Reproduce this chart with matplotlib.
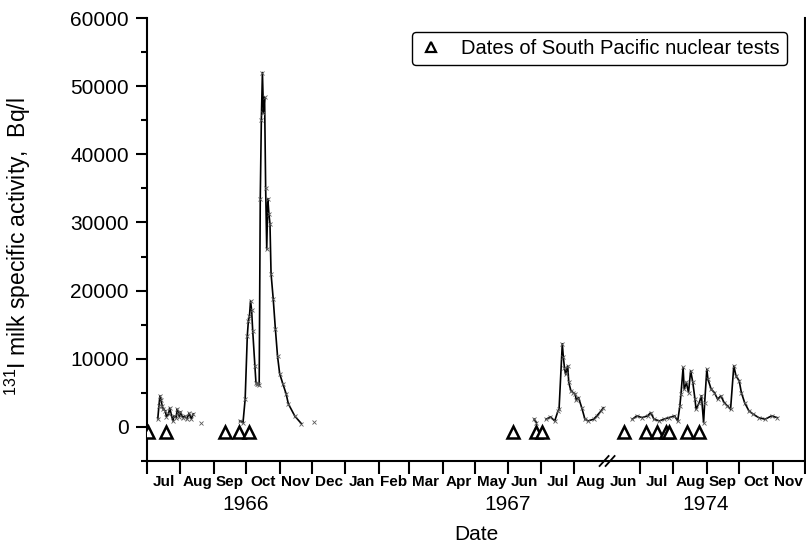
import matplotlib
matplotlib.use("Agg")
import matplotlib.pyplot as plt
import numpy as np
import pandas as pd
from matplotlib.lines import Line2D
from matplotlib.ticker import FixedLocator, MultipleLocator, NullFormatter

plt.rcParams["font.family"] = ["Liberation Sans", "DejaVu Sans"]
plt.rcParams["mathtext.fontset"] = "custom"
plt.rcParams["mathtext.rm"] = "Liberation Sans"
plt.rcParams["mathtext.it"] = "Liberation Sans:italic"

# ---- 131I activity in milk (Bq/l) ----
dates_1966 = [
    "1966-07-11", "1966-07-12", "1966-07-13", "1966-07-14", "1966-07-15", "1966-07-16",
    "1966-07-18", "1966-07-19", "1966-07-21", "1966-07-22", "1966-07-25", "1966-07-26",
    "1966-07-28", "1966-07-29", "1966-07-30", "1966-07-31", "1966-08-01", "1966-08-03",
    "1966-08-05", "1966-08-07", "1966-08-09", "1966-08-11", "1966-08-13", "1966-08-20",
    "1966-09-25", "1966-09-28", "1966-09-30", "1966-10-02", "1966-10-03", "1966-10-04",
    "1966-10-05", "1966-10-06", "1966-10-07", "1966-10-09", "1966-10-10", "1966-10-11",
    "1966-10-12", "1966-10-13", "1966-10-14", "1966-10-15", "1966-10-16", "1966-10-17",
    "1966-10-18", "1966-10-19", "1966-10-20", "1966-10-21", "1966-10-22", "1966-10-23",
    "1966-10-24", "1966-10-26", "1966-10-28", "1966-10-30", "1966-11-01", "1966-11-04",
    "1966-11-07", "1966-11-09", "1966-11-15", "1966-11-21", "1966-12-03",
]
activity_1966 = [
    1200, 3000, 4560, 4000, 3100, 2600,
    2350, 1500, 1900, 2800, 880, 1600,
    1370, 2600, 2100, 1500, 2200, 1370,
    1600, 1180, 2000, 1200, 1900, 630,
    880, 630, 4100, 13400, 15600, 16300,
    18500, 17100, 14100, 9000, 6500, 6300,
    6300, 6200, 33500, 45000, 52000, 46000,
    48400, 35000, 26100, 33500, 31300, 29800,
    22500, 18800, 14400, 10400, 7800, 6300,
    4850, 3400, 1600, 500, 780,
]

dates_1967 = [
    "1967-06-25", "1967-06-27", "1967-07-06", "1967-07-10", "1967-07-14", "1967-07-17",
    "1967-07-18", "1967-07-21", "1967-07-22", "1967-07-23", "1967-07-24", "1967-07-26",
    "1967-07-27", "1967-07-29", "1967-07-31", "1967-08-02", "1967-08-03", "1967-08-05",
    "1967-08-08", "1967-08-11", "1967-08-14", "1967-08-19", "1967-08-22", "1967-08-26",
    "1967-08-28",
]
activity_1967 = [
    1130, 630, 1130, 1470, 880, 2350,
    2600, 12200, 10200, 8700, 7750, 8970,
    6520, 5300, 5040, 4800, 3900, 4310,
    2840, 1130, 880, 1130, 1620, 2350,
    2800,
]

dates_1974 = [
    "1974-06-24", "1974-06-28", "1974-07-03", "1974-07-08", "1974-07-11", "1974-07-14",
    "1974-07-19", "1974-07-23", "1974-07-28", "1974-08-02", "1974-08-05", "1974-08-07",
    "1974-08-08", "1974-08-10", "1974-08-11", "1974-08-13", "1974-08-15", "1974-08-17",
    "1974-08-19", "1974-08-21", "1974-08-22", "1974-08-25", "1974-08-27", "1974-08-29",
    "1974-08-30", "1974-09-01", "1974-09-02", "1974-09-05", "1974-09-08", "1974-09-11",
    "1974-09-14", "1974-09-17", "1974-09-20", "1974-09-23", "1974-09-26", "1974-09-28",
    "1974-10-01", "1974-10-03", "1974-10-06", "1974-10-10", "1974-10-14", "1974-10-19",
    "1974-10-25", "1974-10-31", "1974-11-05",
]
activity_1974 = [
    1130, 1620, 1370, 1620, 2100, 1130,
    880, 1130, 1370, 1620, 880, 3090,
    4800, 8720, 5540, 6520, 5040, 8240,
    6520, 4070, 2600, 3580, 4560, 630,
    3580, 8480, 7010, 5540, 5040, 4070,
    4560, 3580, 3090, 2600, 8970, 7500,
    6760, 5040, 3580, 2350, 1870, 1370,
    1130, 1620, 1370,
]

# ---- South Pacific nuclear test dates ----
tests_1966 = ["1966-07-02", "1966-07-19", "1966-09-11", "1966-09-24", "1966-10-04"]
tests_1967 = ["1967-06-05", "1967-06-27", "1967-07-02"]
tests_1974 = ["1974-06-16", "1974-07-07", "1974-07-17", "1974-07-25", "1974-07-28",
              "1974-08-14", "1974-08-25"]
TEST_LEVEL = -800

# ---- axis text ----
month_labels = ["Jul", "Aug", "Sep", "Oct", "Nov", "Dec", "Jan", "Feb", "Mar", "Apr",
                "May", "Jun", "Jul", "Aug", "Jun", "Jul", "Aug", "Sep", "Oct", "Nov"]
year_labels = ["1966", "1967", "1974"]
year_label_dates = ["1966-09-30", "1967-05-31", "1974-08-31"]
y_ticks = [0, 10000, 20000, 30000, 40000, 50000, 60000]

# Broken time axis: Jul 1966 - Aug 1967, then Jun 1974 - Nov 1974
START_A, END_A = pd.Timestamp("1966-07-01"), pd.Timestamp("1967-09-01")
START_B, END_B = pd.Timestamp("1974-06-01"), pd.Timestamp("1974-12-01")
SPAN_A = (END_A - START_A).days
SPAN_TOTAL = SPAN_A + (END_B - START_B).days


def axis_x(dates):
    out = []
    for d in pd.to_datetime(pd.Series(dates)):
        if d < END_A:
            out.append((d - START_A).days)
        else:
            out.append(SPAN_A + (d - START_B).days)
    return np.array(out, dtype=float)


def runs(dates, values, max_gap=6):
    x = axis_x(dates)
    v = np.asarray(values, dtype=float)
    cuts = np.where(np.diff(x) > max_gap)[0] + 1
    return zip(np.split(x, cuts), np.split(v, cuts))


W, H = 806, 544
fig = plt.figure(figsize=(W / 100, H / 100), dpi=100)
L, R, T, B = 147, 805, 18, 461
ax = fig.add_axes([L / W, 1 - B / H, (R - L) / W, (B - T) / H])

for dates, vals in [(dates_1966, activity_1966), (dates_1967, activity_1967),
                    (dates_1974, activity_1974)]:
    for xs, vs in runs(dates, vals):
        ax.plot(xs, vs, color="black", lw=1.2, marker="x", ms=3.2, mew=0.6,
                mec="0.35", zorder=3)

for tests in (tests_1966, tests_1967, tests_1974):
    xt = axis_x(tests)
    ax.plot(xt, np.full(len(xt), TEST_LEVEL), ls="none", marker="^", ms=8.5,
            mfc="white", mec="black", mew=1.8, zorder=4)

ax.set_xlim(0, SPAN_TOTAL)
ax.set_ylim(-5000, 60000)

# spines
for side in ("left", "bottom", "right"):
    ax.spines[side].set_linewidth(1.5)
ax.spines["top"].set_visible(False)

# y axis
ax.yaxis.set_major_locator(FixedLocator(y_ticks))
ax.set_yticklabels([str(v) for v in y_ticks])
ax.yaxis.set_minor_locator(MultipleLocator(5000))
ax.tick_params(axis="y", which="major", direction="out", length=8, width=1.5,
               labelsize=15, pad=5)
ax.tick_params(axis="y", which="minor", direction="out", length=4, width=1.5)
ax.tick_params(axis="y", right=False)

# x axis: month boundaries as ticks, month names centred between them
bounds_a = pd.date_range(START_A, END_A, freq="MS")
bounds_b = pd.date_range("1974-07-01", END_B, freq="MS")
major_x = np.concatenate([axis_x(bounds_a), axis_x(bounds_b)])
starts = list(pd.date_range(START_A, END_A - pd.Timedelta(days=1), freq="MS")) + \
    list(pd.date_range(START_B, END_B - pd.Timedelta(days=1), freq="MS"))
centres = [axis_x([s])[0] + s.days_in_month / 2 for s in starts]

ax.xaxis.set_major_locator(FixedLocator(major_x))
ax.xaxis.set_major_formatter(NullFormatter())
ax.tick_params(axis="x", which="major", direction="out", length=9, width=1.5)

xform = ax.get_xaxis_transform()
for lab, c in zip(month_labels, centres):
    ax.text(c, -(486 - B) / (B - T), lab, fontsize=11, fontweight="bold",
            ha="center", va="baseline", transform=xform, clip_on=False)

for lab, d in zip(year_labels, year_label_dates):
    ax.text(axis_x([d])[0], -(505 - B) / (B - T), lab, fontsize=15, ha="center",
            va="center", transform=xform, clip_on=False)
ax.text(0.5, -(535 - B) / (B - T), "Date", fontsize=15, ha="center", va="center",
        transform=ax.transAxes)

ax.set_ylabel(r"$^{131}$I milk specific activity,  Bq/l", fontsize=16.5)
ax.yaxis.set_label_coords(-(L - 33) / (R - L), (B - 247) / (B - T))

# break marks on the time axis
xb = SPAN_A / SPAN_TOTAL
px, py = 1 / (R - L), 1 / (B - T)
for off in (-3, 3):
    ax.add_line(Line2D([xb + (off - 5) * px, xb + (off + 4) * px], [-5 * py, 5 * py],
                       transform=ax.transAxes, color="black", lw=1.3, clip_on=False))

handle = Line2D([], [], ls="none", marker="^", ms=6.5, mfc="white", mec="black", mew=1.6)
leg = ax.legend([handle], ["Dates of South Pacific nuclear tests"], loc="upper right",
                bbox_to_anchor=((787 - L) / (R - L), (B - 32) / (B - T)),
                borderaxespad=0, fontsize=14.5, frameon=True,
                fancybox=True, framealpha=1, edgecolor="black", handlelength=1.2,
                handletextpad=0.9, borderpad=0.35)
leg.get_frame().set_linewidth(1.0)

fig.savefig("out.png", dpi=100)
